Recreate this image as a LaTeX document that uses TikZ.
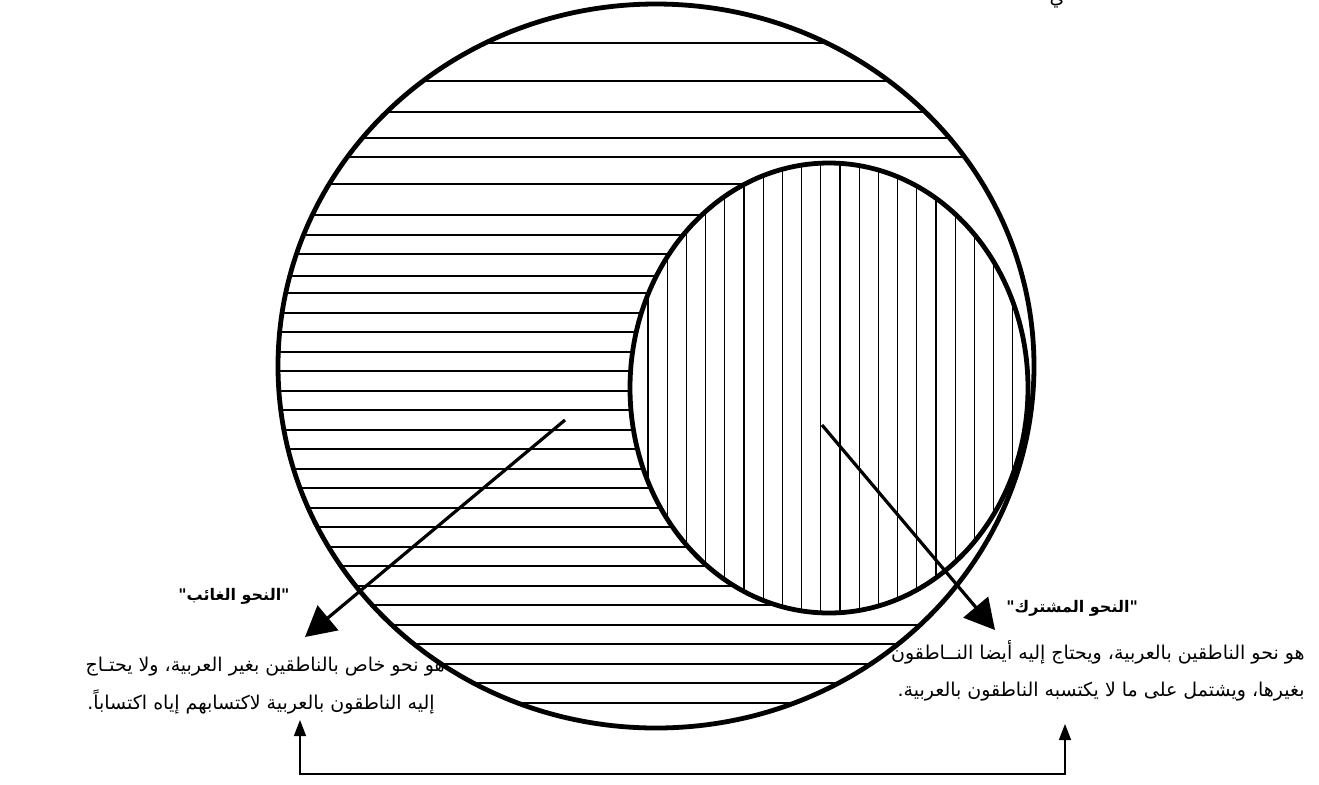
\documentclass[tikz,border=0pt]{standalone}
\usepackage{fontspec}
\usetikzlibrary{positioning,arrows.meta}
\newfontfamily\arabicfont[Script=Arabic]{DejaVu Sans}
\TeXXeTstate=1

\begin{document}
\begin{tikzpicture}[
  x=0.5pt, y=-0.5pt,
  rim/.style={line width=2.4pt},
  hatch/.style={line width=0.8pt},
  vhatch/.style={line width=0.6pt},
  pointer/.style={line width=1.6pt, -{Triangle[length=15pt,width=16pt]}},
  link/.style={line width=0.7pt, {Triangle[length=8pt,width=6pt]}-{Triangle[length=8pt,width=6pt]}},
  note/.style={font=\arabicfont\fontsize{9.5}{11}\selectfont, inner sep=0pt,
               text height=7pt, text depth=3pt},
  heading/.style={note, font=\arabicfont\bfseries\fontsize{8}{10}\selectfont},
]
\useasboundingbox (0,0) rectangle (1319,784);

\begin{scope}
  \clip (656,366) ellipse [x radius=378, y radius=362];
  \foreach \y in {43,81,112,138,157,625,644,664,683,703}
    \draw[hatch] (270,\y) -- (1040,\y);
  \foreach \y in {184,215,235,254,276,293,313,332,352,371,391,410,430,449,469,488,508,527,547,566,586,605}
    \draw[hatch] (270,\y) -- (829,\y);
\end{scope}
\fill[white] (829,388) ellipse [x radius=199, y radius=225];
\begin{scope}
  \clip (829,388) ellipse [x radius=199, y radius=225];
  \foreach \i in {0,...,19}
    \draw[vhatch] ({648+19.2*\i},150) -- ({648+19.2*\i},620);
\end{scope}

\draw[rim] (656,366) ellipse [x radius=378, y radius=362];
\draw[rim] (829,388) ellipse [x radius=199, y radius=225];

\coordinate (gsrc) at (565,420);
\coordinate (gtip) at (305,637);
\coordinate (msrc) at (822,425);
\coordinate (mtip) at (995,630);
\draw[pointer] (gsrc) -- (gtip);
\draw[pointer] (msrc) -- (mtip);

\node[heading, anchor=east] (ghaib) at (290,596) {\beginR"النحو الغائب"\endR};
\node[note, anchor=east] (gline1) at (445,667) {\beginR هو نحو خاص بالناطقين بغير العربية، ولا يحتـاج\endR};
\node[note, below left=9pt and 5pt of gline1.south east] (gline2) {\beginR إليه الناطقون بالعربية لاكتسابهم إياه اكتساباً.\endR};

\node[heading, anchor=west] (mushtarak) at (1006,608) {\beginR"النحو المشترك"\endR};
\node[note, anchor=east] (mline1) at (1305,655) {\beginR هو نحو الناطقين بالعربية، ويحتاج إليه أيضا النــاطقون\endR};
\node[note, below left=8.5pt and 0pt of mline1.south east] (mline2) {\beginR بغيرها، ويشتمل على ما لا يكتسبه الناطقون بالعربية.\endR};

\node[note, anchor=base] (cut) at (1057,3) {\beginR ي\endR};

\coordinate (gfoot) at (300,720);
\coordinate (mfoot) at (1065,724);
\coordinate (floor) at (0,774);
\draw[link] (gfoot) -- (gfoot |- floor) -- (mfoot |- floor) -- (mfoot);
\end{tikzpicture}
\end{document}
